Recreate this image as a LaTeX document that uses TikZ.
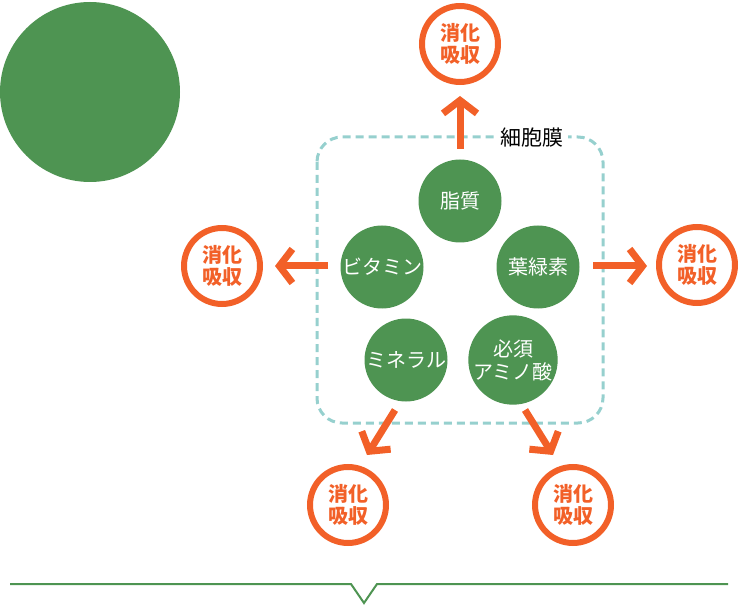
\documentclass[tikz,border=0pt]{standalone}
\usepackage{fontspec}
\newfontfamily\cjk{Noto Sans CJK JP}
\usetikzlibrary{arrows.meta}
\definecolor{leaf}{RGB}{78,148,82}
\definecolor{orng}{RGB}{242,96,40}
\definecolor{memb}{RGB}{150,208,206}
\tikzset{
  greenball/.style={circle, fill=leaf, minimum size=83pt, inner sep=0pt, text=white, align=center,
    font=\cjk\fontsize{20}{23}\selectfont},
  digest/.style={circle, draw=orng, line width=6pt, minimum size=76pt, inner sep=0pt, text=orng, align=center,
    font=\cjk\bfseries\fontsize{20}{22}\selectfont},
  flow/.style={draw=orng, line width=7pt, -{Straight Barb[length=13pt, width=34pt, line width=7pt]}},
}
\begin{document}
\begin{tikzpicture}[x=1pt, y=-1pt]
\useasboundingbox (0,0) rectangle (740,607);
% big circle
\node[circle, fill=leaf, minimum size=180pt, inner sep=0pt] (big) at (90,92) {};
% membrane
\draw[memb, line width=3pt, dash pattern=on 8pt off 5pt, rounded corners=25pt] (317,137) rectangle (603,423);
\node[fill=white, inner sep=4pt, font=\cjk\fontsize{21}{22}\selectfont, text=black] (mem) at (532,138) {細胞膜};
% nutrients
\node[greenball] (lipid) at (460,201) {脂質};
\node[greenball] (vit) at (382,267) {ビタミン};
\node[greenball] (chl) at (538,267) {葉緑素};
\node[greenball] (min) at (406,360) {ミネラル};
\node[greenball] (amino) at (513,360) {必須\\アミノ酸};
% digestion circles
\node[digest] (dTop) at (460,44) {消化\\吸収};
\node[digest] (dLeft) at (222,266) {消化\\吸収};
\node[digest] (dRight) at (697,265) {消化\\吸収};
\node[digest] (dBL) at (348,505) {消化\\吸収};
\node[digest] (dBR) at (573,505) {消化\\吸収};
% arrow ends
\coordinate (aTs) at (460,149); \coordinate (aTe) at (460,96);
\coordinate (aLs) at (328,266); \coordinate (aLe) at (275,266);
\coordinate (aRs) at (593,266); \coordinate (aRe) at (647,266);
\coordinate (aBLs) at (395,410); \coordinate (aBLe) at (367,455);
\coordinate (aBRs) at (525,410); \coordinate (aBRe) at (553,455);
\draw[flow] (aTs) -- (aTe);
\draw[flow] (aLs) -- (aLe);
\draw[flow] (aRs) -- (aRe);
\draw[flow] (aBLs) -- (aBLe);
\draw[flow] (aBRs) -- (aBRe);
% bottom line with notch
\coordinate (lineL) at (10,584);
\coordinate (lineR) at (728,584);
\coordinate (notchA) at (351,584);
\coordinate (notchB) at (364,603);
\coordinate (notchC) at (377,584);
\draw[leaf, line width=2pt] (lineL) -- (notchA) -- (notchB) -- (notchC) -- (lineR);
\end{tikzpicture}
\end{document}
